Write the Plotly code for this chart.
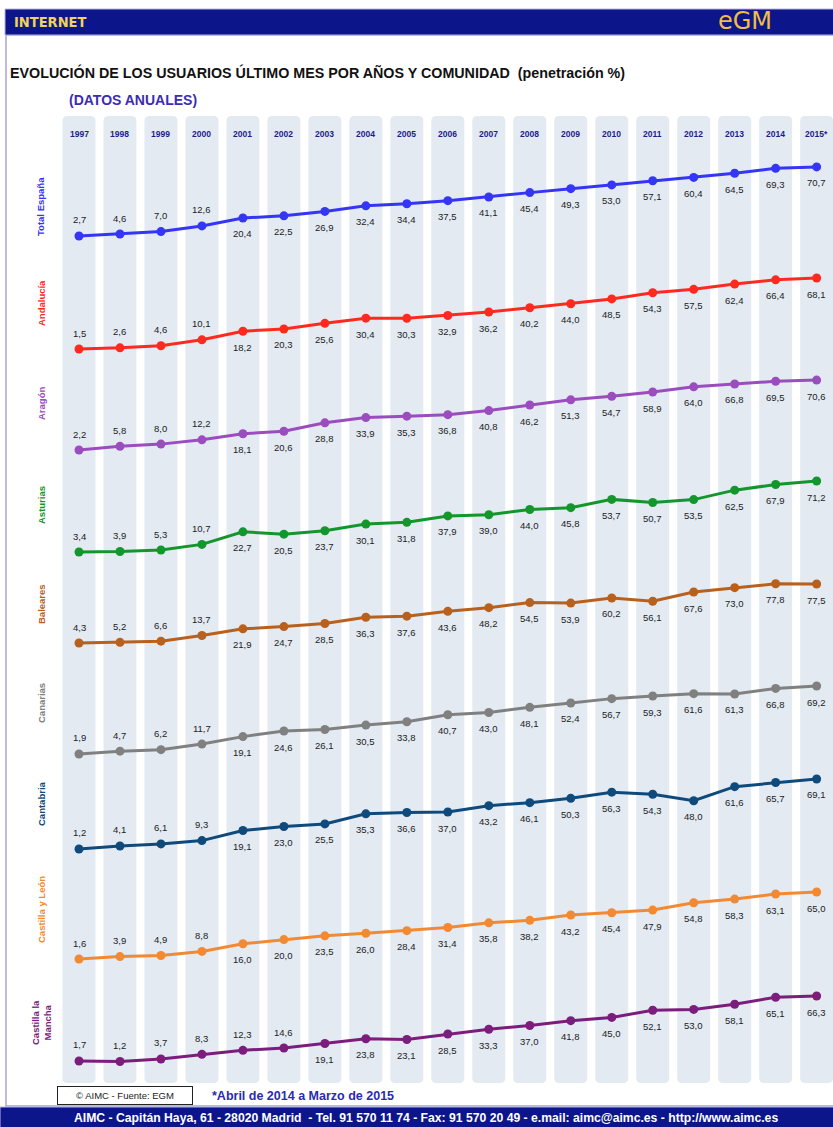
import plotly.graph_objects as go

# ---- data -------------------------------------------------------------
years = ["1997", "1998", "1999", "2000", "2001", "2002", "2003", "2004", "2005",
         "2006", "2007", "2008", "2009", "2010", "2011", "2012", "2013", "2014", "2015*"]

total_espana = [2.7, 4.6, 7.0, 12.6, 20.4, 22.5, 26.9, 32.4, 34.4, 37.5, 41.1, 45.4, 49.3, 53.0, 57.1, 60.4, 64.5, 69.3, 70.7]
andalucia = [1.5, 2.6, 4.6, 10.1, 18.2, 20.3, 25.6, 30.4, 30.3, 32.9, 36.2, 40.2, 44.0, 48.5, 54.3, 57.5, 62.4, 66.4, 68.1]
aragon = [2.2, 5.8, 8.0, 12.2, 18.1, 20.6, 28.8, 33.9, 35.3, 36.8, 40.8, 46.2, 51.3, 54.7, 58.9, 64.0, 66.8, 69.5, 70.6]
asturias = [3.4, 3.9, 5.3, 10.7, 22.7, 20.5, 23.7, 30.1, 31.8, 37.9, 39.0, 44.0, 45.8, 53.7, 50.7, 53.5, 62.5, 67.9, 71.2]
baleares = [4.3, 5.2, 6.6, 13.7, 21.9, 24.7, 28.5, 36.3, 37.6, 43.6, 48.2, 54.5, 53.9, 60.2, 56.1, 67.6, 73.0, 77.8, 77.5]
canarias = [1.9, 4.7, 6.2, 11.7, 19.1, 24.6, 26.1, 30.5, 33.8, 40.7, 43.0, 48.1, 52.4, 56.7, 59.3, 61.6, 61.3, 66.8, 69.2]
cantabria = [1.2, 4.1, 6.1, 9.3, 19.1, 23.0, 25.5, 35.3, 36.6, 37.0, 43.2, 46.1, 50.3, 56.3, 54.3, 48.0, 61.6, 65.7, 69.1]
castilla_leon = [1.6, 3.9, 4.9, 8.8, 16.0, 20.0, 23.5, 26.0, 28.4, 31.4, 35.8, 38.2, 43.2, 45.4, 47.9, 54.8, 58.3, 63.1, 65.0]
castilla_mancha = [1.7, 1.2, 3.7, 8.3, 12.3, 14.6, 19.1, 23.8, 23.1, 28.5, 33.3, 37.0, 41.8, 45.0, 52.1, 53.0, 58.1, 65.1, 66.3]

regions = ["Total España", "Andalucía", "Aragón", "Asturias", "Baleares",
           "Canarias", "Cantabria", "Castilla y León", "Castilla la<br>Mancha"]
series = [total_espana, andalucia, aragon, asturias, baleares,
          canarias, cantabria, castilla_leon, castilla_mancha]

# ---- styling / layout ---------------------------------------------------
W, H = 833, 1127
colors = ["#3535f5", "#ff2a1f", "#9b4dbf", "#13962c", "#b9601c",
          "#808080", "#0e4a7c", "#f28a33", "#7c1c7c"]

# per-panel vertical placement: (baseline pixel for value 0, pixels per unit)
panel_geom = [(238.7, 1.015), (350.6, 1.066), (452.3, 1.023), (555.6, 1.047),
              (646.5, 0.806), (755.9, 1.010), (850.2, 1.031), (960.7, 1.057),
              (1062.7, 1.006)]
# vertical centre of each rotated region label (pixels)
label_y = [207, 303, 404, 505, 604, 703, 804, 910, 1023]

X0_PX, STEP_PX = 79.0, 40.98


def px_x(px):
    return px / W


def px_y(py):
    return 1 - py / H


def page_text(px, py, text, font, xanchor="center", **kw):
    return dict(x=px_x(px), y=px_y(py), xref="paper", yref="paper", showarrow=False,
                xanchor=xanchor, yanchor="middle", text=text, font=font, **kw)


fig = go.Figure()

layout_axes = {}
annotations = []
for k, (name, vals, col, (base, scale)) in enumerate(zip(regions, series, colors, panel_geom)):
    yname = "y" if k == 0 else f"y{k + 1}"
    axkey = "yaxis" if k == 0 else f"yaxis{k + 1}"
    fig.add_trace(go.Scatter(
        x=list(range(len(years))), y=vals, mode="lines+markers",
        line=dict(color=col, width=3), marker=dict(color=col, size=9),
        yaxis=yname, hoverinfo="skip", showlegend=False))
    ax = dict(domain=[0, 1], range=[(base - H) / scale, base / scale],
              visible=False, fixedrange=True)
    if k > 0:
        ax["overlaying"] = "y"
    layout_axes[axkey] = ax
    for i, v in enumerate(vals):
        annotations.append(dict(
            x=i, y=v, xref="x", yref=yname, showarrow=False,
            xanchor="center", yanchor="middle",
            text=f"{v:.1f}".replace(".", ","),
            yshift=16 if v < 15 else -16,
            font=dict(family="Liberation Sans", size=9.5, color="#222222")))
    annotations.append(page_text(
        41, label_y[k], f"<b>{name}</b>",
        dict(family="Liberation Sans", size=9.5, color=col), textangle=-90))

# year headers inside the columns
for i, yr in enumerate(years):
    annotations.append(dict(
        x=i, y=px_y(134), xref="x", yref="paper", showarrow=False,
        xanchor="center", yanchor="middle", text=f"<b>{yr}</b>",
        font=dict(family="Liberation Sans", size=8.5, color="#1d1d8e")))

# page texts
annotations += [
    page_text(12, 22, "<b>INTERNET</b>",
              dict(family="DejaVu Sans Condensed", size=14.5, color="#f2d35a"), xanchor="left"),
    page_text(745, 21, "eGM", dict(family="DejaVu Sans", size=24, color="#f1bd45")),
    page_text(8, 72, "<b>EVOLUCIÓN DE LOS USUARIOS ÚLTIMO MES POR AÑOS Y COMUNIDAD  (penetración %)</b>",
              dict(family="Liberation Sans", size=14.3, color="#111111"), xanchor="left"),
    page_text(67, 100, "<b>(DATOS ANUALES)</b>",
              dict(family="Liberation Sans", size=14, color="#3a2db4"), xanchor="left"),
    page_text(125, 1095, "© AIMC - Fuente: EGM",
              dict(family="Liberation Sans", size=9.5, color="#222222"),
              bordercolor="#222222", borderwidth=1, borderpad=3, bgcolor="white", width=128),
    page_text(210, 1096, "<b>*Abril de 2014 a Marzo de 2015</b>",
              dict(family="Liberation Sans", size=12.5, color="#2b2bb0"), xanchor="left"),
    page_text(426, 1118,
              "<b>AIMC - Capitán Haya, 61 - 28020 Madrid  - Tel. 91 570 11 74 - Fax: 91 570 20 49 - e.mail: aimc@aimc.es - http://www.aimc.es</b>",
              dict(family="Liberation Sans", size=12.2, color="white")),
]

# rounded background columns, one per year
shapes = []
half = 16.5 / STEP_PX
rx = 5 / STEP_PX
ry = 5 / H
yt, yb = px_y(116), px_y(1083)
for i in range(len(years)):
    x0, x1 = i - half, i + half
    path = (f"M {x0 + rx},{yt} L {x1 - rx},{yt} Q {x1},{yt} {x1},{yt - ry} "
            f"L {x1},{yb + ry} Q {x1},{yb} {x1 - rx},{yb} L {x0 + rx},{yb} "
            f"Q {x0},{yb} {x0},{yb + ry} L {x0},{yt - ry} Q {x0},{yt} {x0 + rx},{yt} Z")
    shapes.append(dict(type="path", path=path, xref="x", yref="paper",
                       fillcolor="#e3eaf2", line=dict(width=0), layer="below"))

# page frame, header and footer bars
shapes += [
    dict(type="rect", xref="paper", yref="paper", x0=px_x(6), x1=px_x(840),
         y0=px_y(1106), y1=px_y(35), line=dict(color="#a7a3dc", width=1.5), layer="below"),
    dict(type="rect", xref="paper", yref="paper", x0=px_x(5), x1=px_x(840),
         y0=px_y(35), y1=px_y(9), fillcolor="#0c168a", line=dict(color="#b8b5e0", width=1),
         layer="below"),
    dict(type="rect", xref="paper", yref="paper", x0=px_x(0), x1=px_x(840),
         y0=px_y(1130), y1=px_y(1107), fillcolor="#0c168a", line=dict(color="#b8b5e0", width=1),
         layer="below"),
]

fig.update_layout(
    width=W, height=H,
    margin=dict(l=0, r=0, t=0, b=0),
    paper_bgcolor="white", plot_bgcolor="white",
    xaxis=dict(domain=[0, 1], range=[-X0_PX / STEP_PX, (W - X0_PX) / STEP_PX],
               visible=False, fixedrange=True),
    annotations=annotations, shapes=shapes,
    **layout_axes,
)

fig.write_html("out.html")
